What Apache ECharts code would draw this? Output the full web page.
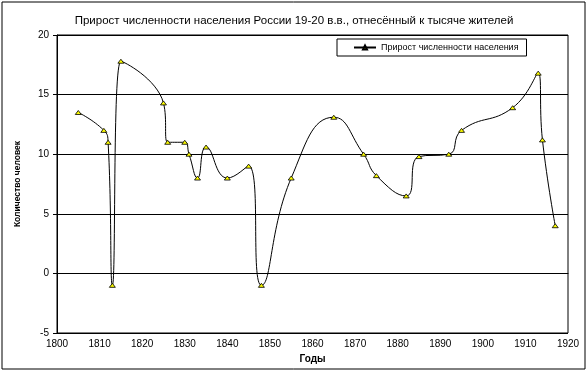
<!DOCTYPE html>
<html>
<head>
<meta charset="utf-8">
<script src="https://cdn.jsdelivr.net/npm/echarts@6/dist/echarts.min.js"></script>
<style>
html,body{margin:0;padding:0;background:#fff;}
#c{width:588px;height:372px;}
</style>
</head>
<body>
<div id="c"></div>
<script>
const titleText = 'Прирост численности населения России 19-20 в.в., отнесённый к тысяче жителей';
const seriesName = 'Прирост численности населения';
const xName = 'Годы';
const yName = 'Количество человек';
const years = [1805,1811,1812,1813,1815,1825,1826,1830,1831,1833,1835,1840,1845,1848,1855,1865,1872,1875,1882,1885,1892,1895,1907,1913,1914,1917];
const values = [13.5,12,11,-1,17.8,14.3,11,11,10,8,10.6,8,9,-1,8,13.1,10,8.2,6.5,9.8,10,12,13.9,16.8,11.2,4];
const xTicks = [1800,1810,1820,1830,1840,1850,1860,1870,1880,1890,1900,1910,1920];
const yTicks = [-5,0,5,10,15,20];

const FONT = '"Liberation Sans", Arial, sans-serif';
const chart = echarts.init(document.getElementById('c'), null, {renderer:'canvas'});
chart.setOption({
  animation:false,
  backgroundColor:'#fff',
  textStyle:{fontFamily:FONT},
  title:{
    text:titleText, left:'center', top:10,
    textStyle:{fontSize:11.5, fontWeight:'normal', color:'#000', fontFamily:FONT}
  },
  legend:{
    data:[seriesName],
    left:337, top:39, width:203, height:17,
    padding:[4,8,4,16],
    borderColor:'#000', borderWidth:1,
    itemWidth:22, itemHeight:5, itemGap:6,
    textStyle:{fontSize:9, color:'#000', fontFamily:FONT}
  },
  graphic:[{
    type:'rect', shape:{x:2, y:2, width:583, height:367},
    style:{fill:null, stroke:'#000', lineWidth:1}, silent:true, z:-1
  }],
  grid:{left:57, right:20, top:35, bottom:39, show:true, borderColor:'#000', borderWidth:1},
  xAxis:{
    type:'value', min:xTicks[0], max:xTicks[xTicks.length-1], interval:10,
    name:xName, nameLocation:'middle', nameGap:21,
    nameTextStyle:{fontSize:10, fontWeight:'bold', color:'#000', fontFamily:FONT},
    axisLine:{show:true, lineStyle:{color:'#000', width:1}},
    axisTick:{show:false},
    axisLabel:{fontSize:10, color:'#000', margin:6, fontFamily:FONT, formatter:(v)=>String(v)},
    splitLine:{show:false}
  },
  yAxis:{
    type:'value', min:yTicks[0], max:yTicks[yTicks.length-1], interval:5,
    name:yName, nameLocation:'middle', nameGap:35,
    nameTextStyle:{fontSize:8.5, fontWeight:'bold', color:'#000', fontFamily:FONT},
    axisLine:{show:true, lineStyle:{color:'#000', width:1}},
    axisTick:{show:true, inside:false, length:4, lineStyle:{color:'#000'}},
    axisLabel:{fontSize:10, color:'#000', margin:8, fontFamily:FONT},
    splitLine:{show:true, lineStyle:{color:'#000', width:1}}
  },
  series:[{
    name:seriesName,
    type:'line',
    data:years.map((y,i)=>[y, values[i]]),
    smooth:0.5,
    symbol:'triangle', symbolSize:[6,4],
    itemStyle:{color:'#ffff00', borderColor:'#000', borderWidth:0.8},
    lineStyle:{color:'#000', width:1}
  }]
});
</script>
</body>
</html>
